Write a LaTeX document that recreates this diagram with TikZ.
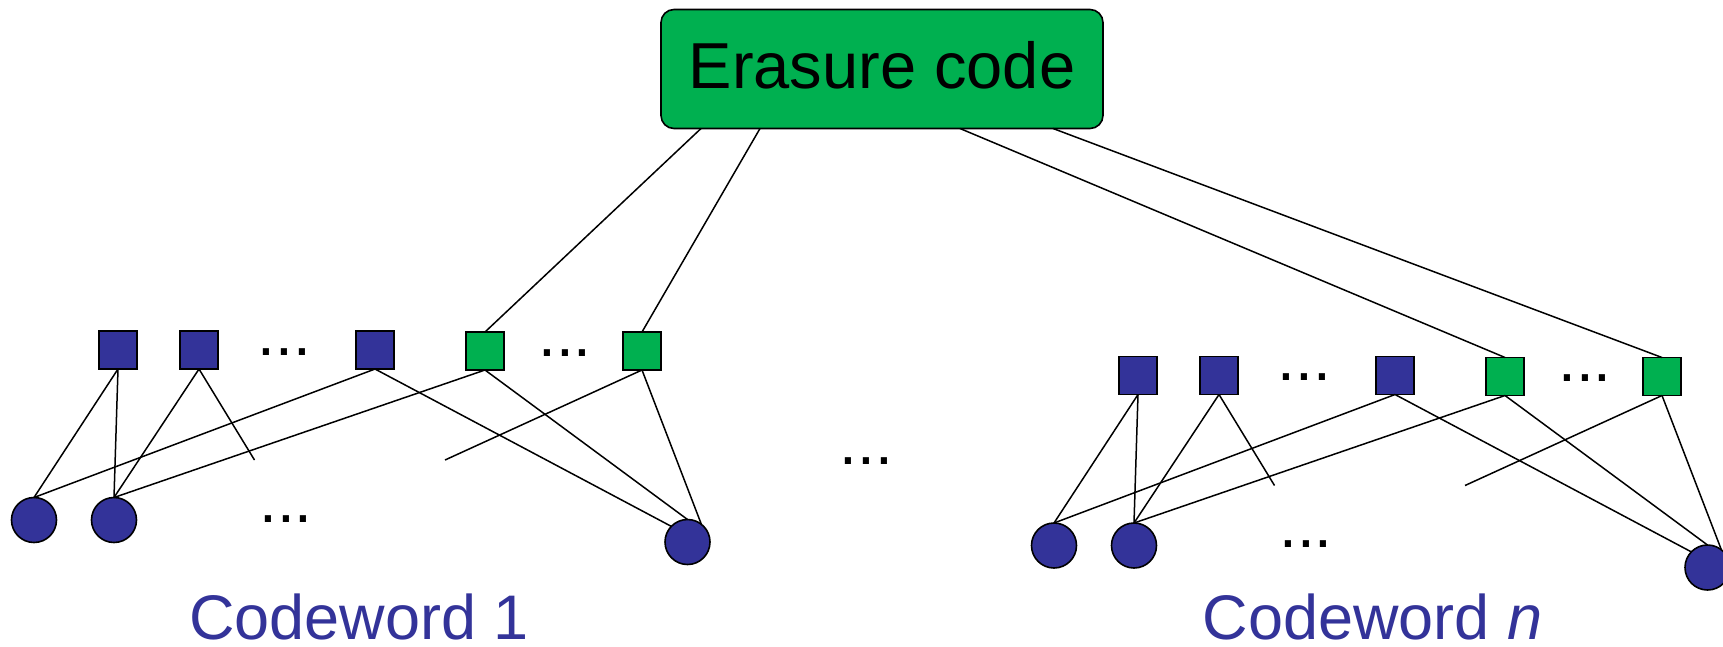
\documentclass[tikz,border=0pt]{standalone}
\usepackage{fontspec}
\setmainfont{Liberation Sans}
\definecolor{navy}{HTML}{333399}
\definecolor{leaf}{HTML}{00B050}
\begin{document}
\begin{tikzpicture}[x=1pt,y=-1pt,
  every node/.style={inner sep=0pt, outer sep=0pt},
  edge/.style={line width=1.5pt, black},
  datasq/.style={rectangle, draw=black, line width=1.6pt, fill=navy, minimum size=38pt},
  paritysq/.style={rectangle, draw=black, line width=1.6pt, fill=leaf, minimum size=38pt},
  symb/.style={circle, draw=black, line width=1.6pt, fill=navy, minimum size=45pt},
  dots/.style={anchor=base, font=\fontsize{64}{76}\selectfont},
  cwlabel/.style={anchor=base, text=navy, text depth=0pt, font=\fontsize{63}{76}\selectfont},
  codebox/.style={rectangle, rounded corners=13pt, draw=black, line width=1.6pt,
    fill=leaf, minimum width=442pt, minimum height=119pt,
    font=\fontsize{65}{78}\selectfont, text height=47pt, text depth=8pt}]
\useasboundingbox (0,0) rectangle (1723,646);
\clip (0,0) rectangle (1723,646);

% outer code
\node[codebox] (ec) at (882,69) {Erasure code};
\coordinate (e1) at ([xshift=40pt]ec.south west);
\coordinate (e2) at ([xshift=99pt]ec.south west);
\coordinate (e3) at ([xshift=299pt]ec.south west);
\coordinate (e4) at ([xshift=392pt]ec.south west);

% one codeword: check nodes, symbol nodes and their edges
\foreach \g/\dx/\dy in {a/0/0, b/1020/25.5} {
  \begin{scope}[shift={(\dx,\dy)}]
    \node[datasq] (\g s1) at (118,350) {};
    \node[datasq] (\g s2) at (199,350) {};
    \node[dots] (\g t1) at (284.5,355) {...};
    \node[datasq] (\g s3) at (375,350) {};
    \node[paritysq] (\g p1) at (485,351) {};
    \node[dots] (\g t2) at (565,356) {...};
    \node[paritysq] (\g p2) at (642,351) {};
    \node[symb] (\g c1) at (34,520) {};
    \node[symb] (\g c2) at (114,520) {};
    \node[dots] (\g t3) at (286,522) {...};
    \node[symb] (\g c3) at (687.5,542) {};
    \coordinate (\g d1) at (254.5,460);
    \coordinate (\g d2) at (445,460);
  \end{scope}
  \draw[edge] (\g s1.south) -- (\g c1.north);
  \draw[edge] (\g s1.south) -- (\g c2.north);
  \draw[edge] (\g s2.south) -- (\g c2.north);
  \draw[edge] (\g s2.south) -- (\g d1);
  \draw[edge] (\g s3.south) -- (\g c1.north);
  \draw[edge] (\g s3.south) -- (\g c3.136);
  \draw[edge] (\g p1.south) -- (\g c2.north);
  \draw[edge] (\g p1.south) -- (\g c3.north);
  \draw[edge] (\g p2.south) -- (\g d2);
  \draw[edge] (\g p2.south) -- (\g c3.52);
}

% links from the outer code to the parity nodes
\draw[edge] (e1) -- (ap1.north);
\draw[edge] (e2) -- (ap2.north);
\draw[edge] (e3) -- (bp1.north);
\draw[edge] (e4) -- (bp2.north);

\node[dots] (mid) at (866.5,464) {...};

\node[cwlabel] (cw1) at (359,639) {Codeword 1};
\node[cwlabel] (cwn) at (1372.5,639) {Codeword \textit{n}};
\end{tikzpicture}
\end{document}
